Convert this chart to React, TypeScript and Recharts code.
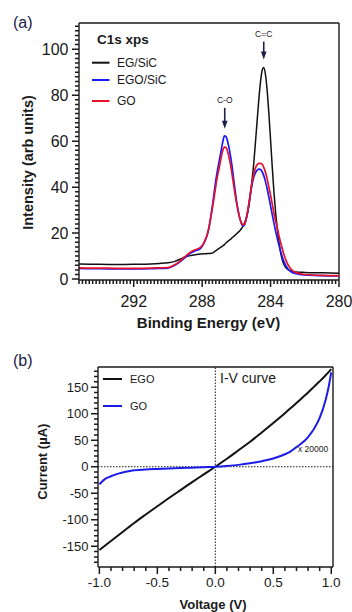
import { LineChart, Line, XAxis, YAxis, ReferenceLine, ReferenceDot } from "recharts";

const FONT = '"Liberation Sans", Arial, Helvetica, sans-serif';
const INK = "#1a1a1a";
const NAVY = "#1c2048";

// ---- (a) C1s XPS spectra ----
const energy = [
  295.2, 294.5, 294, 293, 292, 291, 290.5, 290, 289.6, 289.3, 289.0, 288.7, 288.4, 288.1,
  287.9, 287.8, 287.7, 287.6, 287.5, 287.4, 287.3, 287.2, 287.1, 287.0, 286.9, 286.8,
  286.7, 286.6, 286.5, 286.4, 286.3, 286.2, 286.1, 286.0, 285.9, 285.8, 285.7, 285.6,
  285.5, 285.4, 285.3, 285.2, 285.1, 285.0, 284.9, 284.8, 284.7, 284.6, 284.5, 284.4,
  284.3, 284.2, 284.1, 284.0, 283.9, 283.8, 283.7, 283.6, 283.5, 283.4, 283.3, 283.2,
  283.0, 282.8, 282.5, 282, 281, 280,
];
const egSiC = [
  6.6, 6.5, 6.4, 6.3, 6.4, 6.6, 6.8, 7.1, 7.7, 8.6, 9.6, 10.2, 10.6, 10.9,
  11.0, 11.0, 11.1, 11.1, 11.2, 11.3, 11.8, 12.4, 12.9, 13.4, 13.9, 14.4,
  15.0, 15.8, 16.4, 17.0, 17.6, 18.3, 18.9, 19.6, 20.3, 21.0, 22.0, 23.2,
  24.8, 27, 30.5, 35.5, 42, 49, 58, 67.5, 77, 85, 90.5, 92,
  89, 82, 72, 60.5, 48.5, 37.5, 28.5, 21.5, 15.5, 11, 8, 6,
  4.2, 3.5, 3.1, 2.9, 2.7, 2.5,
];
const egoSiC = [
  4.6, 4.5, 4.5, 4.4, 4.4, 4.5, 4.6, 4.8, 6.0, 7.5, 9.3, 11.2, 12.3, 13.3,
  15.5, 17.2, 19.3, 22.5, 27, 32, 37.5, 43, 47.5, 51.5, 55.5, 59.5,
  62.3, 62.0, 59.5, 56, 51.5, 46, 40, 34.5, 30, 26.5, 24, 23,
  24, 27, 31, 36, 40.5, 44, 46, 47.2, 47.8, 47.7, 46.8, 45,
  42.5, 39.3, 35.7, 31.8, 28, 24.2, 20.7, 17.5, 14.5, 11.8, 9.3, 7.3,
  4.6, 3.2, 2.3, 1.8, 1.5, 1.4,
];
const goXps = [
  4.9, 4.8, 4.8, 4.7, 4.7, 4.8, 4.9, 5.0, 6.2, 7.8, 9.8, 11.6, 12.8, 13.8,
  15.8, 17.5, 19.5, 22.5, 26.5, 31, 35.5, 40.5, 45, 48.5, 52.5, 55.8,
  57.4, 57.2, 55.2, 52, 48, 43, 38, 33.5, 29.5, 26.5, 24.3, 23.6,
  24.3, 27.3, 31.3, 36.3, 41.3, 45.3, 48, 49.6, 50.3, 50.3, 50, 48.6,
  46.5, 43.5, 40, 36.5, 32.5, 28.5, 25, 22, 18.5, 15.5, 12.8, 10.3,
  6.5, 4.3, 2.8, 2.0, 1.6, 1.5,
];
const xpsSeries = [
  { key: "eg", name: "EG/SiC", color: "#111111", width: 1.5, values: egSiC },
  { key: "ego", name: "EGO/SiC", color: "#1a1aff", width: 1.7, values: egoSiC },
  { key: "go", name: "GO", color: "#e5122a", width: 1.7, values: goXps },
];
const xpsXLabels = [292, 288, 284, 280];
const xpsYLabels = [0, 20, 40, 60, 80, 100];
const xpsPeaks = [
  { label: "C=C", e: 284.4, y: 92, gap: 8, len: 18 },
  { label: "C-O", e: 286.68, y: 62.3, gap: 7, len: 21 },
];

// ---- (b) I-V curves ----
const voltage = [
  -1, -0.95, -0.9, -0.85, -0.8, -0.75, -0.7, -0.6, -0.5, -0.4, -0.3, -0.2, -0.1, 0,
  0.1, 0.2, 0.3, 0.4, 0.5, 0.6, 0.65, 0.7, 0.75, 0.8, 0.85, 0.9, 0.95, 0.975, 1.0,
];
const egoCurrent = [
  -157, -148.5, -140, -131.5, -123, -114.5, -106, -90, -74.5, -59, -44, -29, -14.5, 0,
  15, 31, 47, 64.5, 82.5, 101, 110.5, 120, 130, 140, 150.5, 161, 172, 178, 184,
];
const goCurrent = [
  -33, -23, -18, -14, -11, -8.5, -6.8, -5, -4.2, -3.4, -2.6, -1.8, -0.9, 0,
  1.5, 3.5, 6.5, 10.5, 15.5, 23.5, 29, 37, 45, 56, 71, 92, 125, 148, 178,
];
const ivSeries = [
  { key: "ego", name: "EGO", color: "#111111", values: egoCurrent },
  { key: "go", name: "GO", color: "#1c1ce8", values: goCurrent },
];
const ivXLabels = [-1, -0.5, 0, 0.5, 1];
const ivYLabels = [-150, -100, -50, 0, 50, 100, 150];

// axis domains and plot boxes (page px) shared by charts and the tick overlay
const XPS_X = [295.2, 280];
const XPS_Y = [111.4, -0.4];
const IV_X = [-1.012, 1.015];
const IV_Y = [188, -189];
const XPS_BOX = { left: 79, right: 339, top: 23, bottom: 280 };
const IV_TOP = 340;
const IV_BOX = { left: 98, right: 333, top: IV_TOP + 27, bottom: IV_TOP + 227 };

const steps = (a: number, b: number, s: number) => {
  const out: number[] = [];
  const n = Math.round((b - a) / s);
  for (let i = 0; i <= n; i++) out.push(Math.round((a + i * s) * 100) / 100);
  return out;
};
const lin = (d: number[], r0: number, r1: number) => (v: number) => r0 + ((v - d[0]) * (r1 - r0)) / (d[1] - d[0]);

const xpsData = energy.map((e, i) => {
  const row: any = { e };
  xpsSeries.forEach((s) => (row[s.key] = s.values[i]));
  return row;
});
const ivData = voltage.map((v, i) => {
  const row: any = { v };
  ivSeries.forEach((s) => (row[s.key] = s.values[i]));
  return row;
});

const isIn = (labels: number[], v: number) => labels.some((l) => Math.abs(l - v) < 1e-6);

const bottomLabel = (fmt: (v: number) => string, size: number, dy: number) => (p: any) => (
  <text x={p.x} y={Number(p.y) + dy} textAnchor="middle" fontSize={size} fontFamily={FONT} fill={INK}>
    {fmt(p.payload.value)}
  </text>
);
const leftLabel = (size: number, dx: number) => (p: any) => (
  <text x={Number(p.x) - dx} y={p.y} dy="0.36em" textAnchor="end" fontSize={size} fontFamily={FONT} fill={INK}>
    {p.payload.value}
  </text>
);

const arrowMark = (label: string, gap: number, len: number) => (p: any) => {
  const { cx, cy } = p;
  const tip = cy - gap;
  const start = tip - len;
  return (
    <g>
      <line x1={cx} x2={cx} y1={start} y2={tip - 6} stroke={NAVY} strokeWidth={1.6} />
      <path d={`M${cx - 2.8},${tip - 8} L${cx + 2.8},${tip - 8} L${cx},${tip} Z`} fill={NAVY} />
      <text x={cx} y={start - 5} textAnchor="middle" fontSize={8.5} fontFamily={FONT} fill={INK}>
        {label}
      </text>
    </g>
  );
};

function XpsChart() {
  return (
    <LineChart width={352} height={340} data={xpsData} margin={{ top: 23, right: 13, bottom: 0, left: 0 }}>
      <XAxis dataKey="e" type="number" domain={[280, 295.2]} reversed ticks={xpsXLabels} interval={0}
        tickSize={0} tickMargin={0} tickLine={false} tick={bottomLabel((v) => String(v), 16, 26.5)}
        height={60} stroke={INK} strokeWidth={1.4} />
      <YAxis type="number" domain={[-0.4, 111.4]} ticks={xpsYLabels} interval={0} tickSize={0} tickMargin={0}
        tickLine={false} tick={leftLabel(16, 10.5)} width={79} stroke={INK} strokeWidth={1.4} />
      <ReferenceLine y={111.4} stroke={INK} strokeWidth={1.4} />
      <ReferenceLine x={280} stroke={INK} strokeWidth={1.4} />
      {xpsSeries.map((s) => (
        <Line key={s.key} dataKey={s.key} name={s.name} type="monotone" stroke={s.color}
          strokeWidth={s.width} dot={false} isAnimationActive={false} />
      ))}
      {xpsPeaks.map((pk) => (
        <ReferenceDot key={pk.label} x={pk.e} y={pk.y} r={0} shape={arrowMark(pk.label, pk.gap, pk.len)} />
      ))}
    </LineChart>
  );
}

function IvChart() {
  return (
    <LineChart width={352} height={272} data={ivData} margin={{ top: 27, right: 19, bottom: 0, left: 0 }}>
      <XAxis dataKey="v" type="number" domain={IV_X} ticks={ivXLabels} interval={0} tickSize={0} tickMargin={0}
        tickLine={false} tick={bottomLabel((v) => v.toFixed(1), 13.5, 20)} height={45} stroke={INK} strokeWidth={1.4} />
      <YAxis type="number" domain={[-189, 188]} ticks={ivYLabels} interval={0} tickSize={0} tickMargin={0}
        tickLine={false} tick={leftLabel(13, 9.5)} width={98} stroke={INK} strokeWidth={1.4} />
      <ReferenceLine y={188} stroke={INK} strokeWidth={1.4} />
      <ReferenceLine x={1.015} stroke={INK} strokeWidth={1.4} />
      <ReferenceLine y={0} stroke={INK} strokeDasharray="1.5 1.5" />
      <ReferenceLine x={0} stroke={INK} strokeDasharray="1.5 1.5" />
      {ivSeries.map((s) => (
        <Line key={s.key} dataKey={s.key} name={s.name} type="monotone" stroke={s.color}
          strokeWidth={2} dot={false} isAnimationActive={false} />
      ))}
    </LineChart>
  );
}

// tick comb along the bottom and left axes of one panel, drawn as stroked paths
function tickPaths(box: any, xd: number[], yd: number[], xt: number[], yt: number[], xl: number[], yl: number[]) {
  const sx = lin(xd, box.left, box.right);
  const sy = lin(yd, box.top, box.bottom);
  let dx = "";
  xt.forEach((v) => {
    const h = isIn(xl, v) ? 7 : 4;
    const px = sx(v).toFixed(2);
    dx += `M${px},${box.bottom} L${px},${box.bottom + h} `;
  });
  let dy = "";
  yt.forEach((v) => {
    const w = isIn(yl, v) ? 7 : 4;
    const py = sy(v).toFixed(2);
    dy += `M${box.left - w},${py} L${box.left},${py} `;
  });
  return [dx, dy];
}

function Overlay() {
  const t = { fontFamily: FONT, fill: INK };
  const combA = tickPaths(XPS_BOX, XPS_X, XPS_Y, steps(280, 295.2, 0.2), steps(0, 110, 2), xpsXLabels, xpsYLabels);
  const combB = tickPaths(IV_BOX, IV_X, IV_Y, steps(-1, 1, 0.1), steps(-180, 180, 10), ivXLabels, ivYLabels);
  return (
    <svg width={352} height={612} style={{ position: "absolute", left: 0, top: 0, pointerEvents: "none" }}>
      {[...combA, ...combB].map((d, i) => (
        <path key={i} d={d} stroke={INK} strokeWidth={1.5} fill="none" />
      ))}

      <text x={13} y={27.5} fontSize={16} fontFamily={FONT} fill={NAVY}>(a)</text>
      <text x={13} y={366} fontSize={16} fontFamily={FONT} fill={NAVY}>(b)</text>

      <text x={97} y={44} fontSize={13.5} fontWeight="bold" {...t}>C1s xps</text>
      {xpsSeries.map((s, i) => {
        const y = [62.7, 80, 101][i];
        return (
          <g key={s.key}>
            <line x1={92} x2={109.5} y1={y} y2={y} stroke={s.color} strokeWidth={2} />
            <text x={117} y={y + 4.2} fontSize={12} {...t}>{s.name}</text>
          </g>
        );
      })}
      <text transform="translate(33,162.5) rotate(-90)" textAnchor="middle" fontSize={14.5} fontWeight="bold" {...t}>
        Intensity (arb units)
      </text>
      <text x={208.5} y={327.5} textAnchor="middle" fontSize={15} fontWeight="bold" {...t}>
        Binding Energy (eV)
      </text>

      {ivSeries.map((s, i) => {
        const y = [379, 406][i];
        return (
          <g key={s.key}>
            <line x1={103} x2={122} y1={y} y2={y} stroke={s.color} strokeWidth={2} />
            <text x={130} y={y + 4} fontSize={11} {...t}>{s.name}</text>
          </g>
        );
      })}
      <text x={220} y={383} fontSize={14} {...t}>I-V curve</text>
      <text x={298} y={452} fontSize={8.5} {...t}>x 20000</text>
      <text transform="translate(47,461.7) rotate(-90)" textAnchor="middle" fontSize={13} fontWeight="bold" {...t}>
        Current (µA)
      </text>
      <text x={213} y={609} textAnchor="middle" fontSize={13} fontWeight="bold" {...t}>
        Voltage (V)
      </text>
    </svg>
  );
}

export default function App() {
  return (
    <div style={{ position: "absolute", left: 0, top: 0, width: 352, height: 612, background: "#fff" }}>
      <div style={{ position: "absolute", left: 0, top: 0 }}>
        <XpsChart />
      </div>
      <div style={{ position: "absolute", left: 0, top: IV_TOP }}>
        <IvChart />
      </div>
      <Overlay />
    </div>
  );
}
